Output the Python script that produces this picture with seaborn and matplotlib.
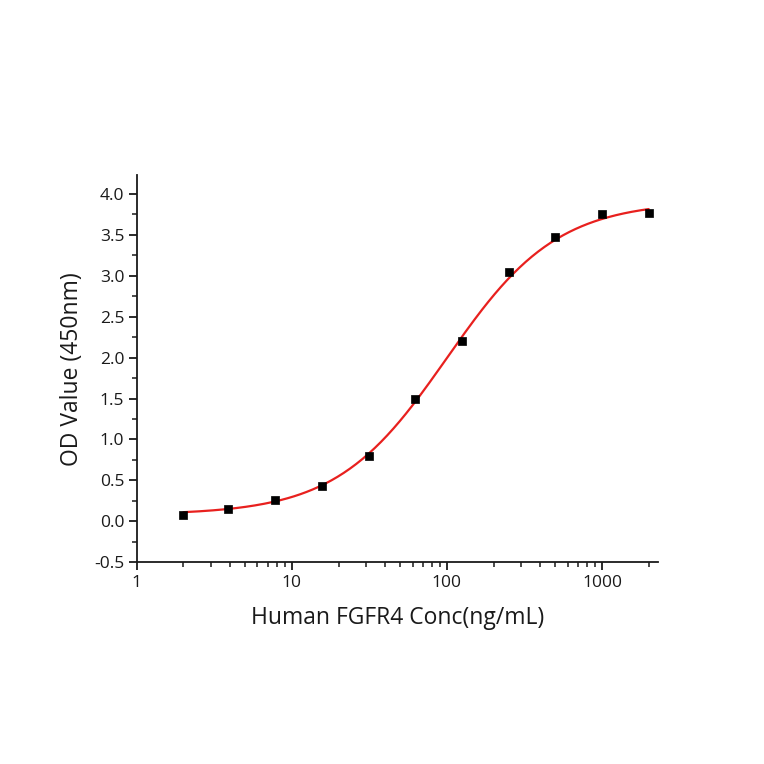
import numpy as np
import pandas as pd
import matplotlib
matplotlib.use("Agg")
import matplotlib.pyplot as plt
from matplotlib.ticker import LogLocator, MultipleLocator, NullFormatter, FixedLocator, FixedFormatter
import seaborn as sns

# measured points
conc = [2, 3.9, 7.8, 15.6, 31.25, 62.5, 125, 250, 500, 1000, 2000]
od = [0.08, 0.15, 0.26, 0.43, 0.80, 1.49, 2.20, 3.04, 3.47, 3.75, 3.76]

# 4PL fit parameters
fit_bottom = 0.08
fit_top = 3.91
fit_ec50 = 100.0
fit_hill = 1.22

df = pd.DataFrame({"conc": conc, "od": od})
xs = np.logspace(np.log10(2), np.log10(2000), 300)
curve = pd.DataFrame({
    "conc": xs,
    "od": fit_bottom + (fit_top - fit_bottom) / (1 + (fit_ec50 / xs) ** fit_hill),
})

sns.set_style("ticks")
plt.rcParams["font.family"] = ["Open Sans", "DejaVu Sans"]

fig = plt.figure(figsize=(7.64, 7.64), dpi=100)
ax = fig.add_axes([0.179, 0.264, 0.682, 0.507])

sns.lineplot(data=curve, x="conc", y="od", color="#e8201e", linewidth=1.6, ax=ax)
sns.scatterplot(data=df, x="conc", y="od", marker="s", color="black", s=38,
                edgecolor="black", linewidth=0.5, zorder=3, ax=ax)

ax.set_xscale("log")
ax.set_xlim(1, 2290)
ax.set_ylim(-0.5, 4.23)
ax.xaxis.set_major_locator(FixedLocator([1, 10, 100, 1000]))
ax.xaxis.set_major_formatter(FixedFormatter(["1", "10", "100", "1000"]))
ax.xaxis.set_minor_locator(LogLocator(base=10, subs=np.arange(2, 10), numticks=20))
ax.xaxis.set_minor_formatter(NullFormatter())
ax.yaxis.set_major_locator(MultipleLocator(0.5))
ax.yaxis.set_minor_locator(MultipleLocator(0.25))
ax.yaxis.set_major_formatter(plt.FuncFormatter(lambda v, p: f"{v:.1f}"))

sns.despine(ax=ax)
for s in ["left", "bottom"]:
    ax.spines[s].set_linewidth(1.3)
    ax.spines[s].set_color("#1a1a1a")
ax.tick_params(which="major", length=6, width=1.3, labelsize=12.5, colors="#1a1a1a",
               direction="out", pad=3)
ax.tick_params(which="minor", length=3.5, width=1.1, colors="#1a1a1a", direction="out")

ax.set_xlabel("Human FGFR4 Conc(ng/mL)", fontsize=16.5, labelpad=11, color="#1a1a1a")
ax.set_ylabel("OD Value (450nm)", fontsize=16.5, labelpad=7, color="#1a1a1a")

fig.savefig("out.png", dpi=100)
